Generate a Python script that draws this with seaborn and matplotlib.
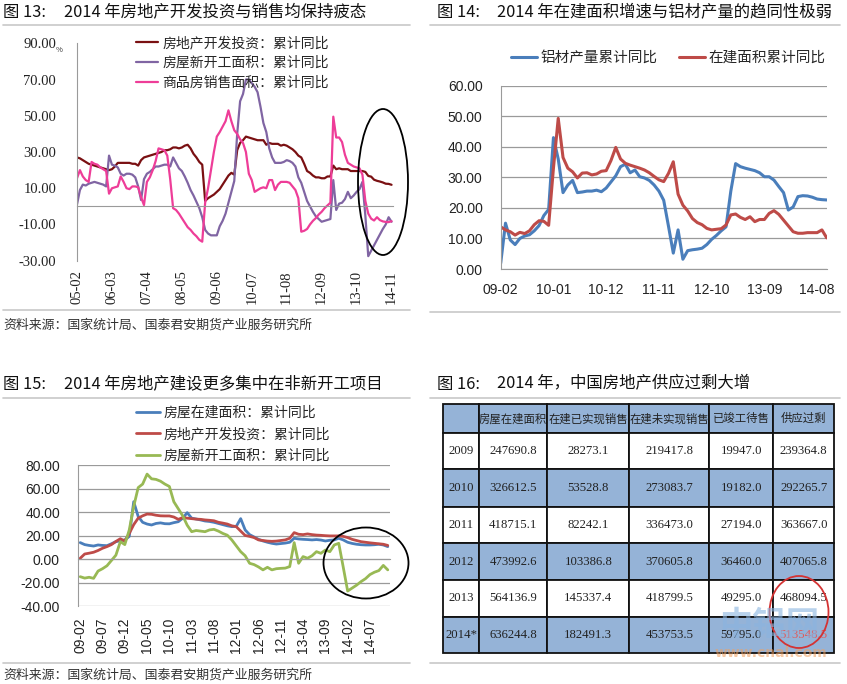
import numpy as np
import pandas as pd
import matplotlib
matplotlib.use("Agg")
import matplotlib.pyplot as plt
import seaborn as sns
from matplotlib.patches import Ellipse
from matplotlib.lines import Line2D

# ---------------- data ----------------
# Fig 13 (monthly YTD yoy, Feb-Dec each year, 05-02 .. 14-11)
ticks13 = ["05-02", "06-03", "07-04", "08-05", "09-06", "10-07", "11-08", "12-09", "13-10", "14-11"]
inv13 = [27.0, 26.5, 25.5, 24.5, 23.5, 23.0, 22.5, 22.0, 21.5, 21.0, 20.5,
         20.0, 20.5, 22.0, 24.0, 24.0, 24.0, 24.0, 24.0, 23.5, 23.5, 22.5,
         25.5, 27.0, 27.5, 28.0, 28.5, 29.0, 29.5, 30.0, 31.0, 31.0, 31.5,
         32.5, 32.5, 32.0, 32.5, 33.5, 34.0, 32.0, 29.0, 27.0, 24.5, 23.0,
         3.0, 4.5, 5.5, 6.5, 8.0, 9.5, 12.0, 14.5, 17.0, 18.5, 17.5,
         31.0, 35.0, 36.5, 38.5, 38.0, 37.5, 37.0, 36.5, 36.5, 36.5, 34.0,
         35.0, 34.5, 34.5, 34.5, 33.5, 34.0, 33.5, 32.5, 31.5, 30.0, 28.0,
         27.0, 23.5, 19.5, 18.5, 17.0, 16.0, 16.0, 15.5, 15.5, 16.5, 16.5,
         22.5, 20.5, 21.0, 20.5, 20.5, 20.5, 19.5, 19.5, 19.5, 19.5, 19.5,
         19.0, 16.8, 16.4, 14.7, 14.1, 13.7, 13.2, 12.5, 12.4, 11.9]
starts13 = [1.0, 9.0, 12.0, 11.5, 12.5, 13.0, 13.5, 13.0, 12.5, 12.0, 11.0,
            28.0, 23.0, 22.5, 21.5, 18.0, 17.0, 18.0, 18.0, 17.5, 16.0, 11.0,
            3.5, 15.0, 18.0, 19.0, 20.5, 22.0, 22.0, 22.5, 23.0, 23.0, 22.0,
            27.0, 24.0, 21.0, 19.5, 16.5, 13.0, 9.0, 6.0, 2.5, -1.0, -6.0,
            -13.0, -15.0, -16.0, -16.0, -16.0, -11.0, -8.0, -4.0, 2.0, 8.0, 14.0,
            40.0, 58.0, 62.0, 70.0, 70.0, 68.0, 66.0, 63.0, 55.0, 46.0, 41.0,
            32.0, 27.0, 24.0, 24.0, 24.0, 24.5, 25.5, 25.0, 24.0, 22.0, 16.0,
            13.0, 8.0, 3.0, 0.0, -3.0, -5.5, -7.0, -8.5, -8.0, -7.5, -7.0,
            14.5, -2.0, 1.5, 2.0, 4.0, 8.0, 4.5, 6.0, 8.0, 9.5, 13.5,
            -5.0, -27.5, -24.5, -21.5, -18.5, -15.5, -12.5, -10.0, -6.0, -8.5]
sales13 = [15.5, 20.0, 16.5, 14.5, 13.5, 24.5, 23.5, 23.0, 21.5, 20.5, 19.5,
           7.0, 10.0, 10.5, 11.0, 16.5, 13.5, 10.0, 9.5, 11.0, 11.0, 10.5,
           5.0, 0.7, 13.5, 16.0, 20.0, 25.0, 32.0, 31.5, 31.0, 28.0, 15.0,
           -1.0, -2.0, -4.0, -6.5, -9.0, -11.5, -13.0, -15.0, -16.5, -18.5, -19.5,
           2.0, 10.0, 20.0, 30.0, 38.5, 41.0, 44.0, 47.0, 53.0, 47.0, 42.0,
           40.0, 37.0, 35.0, 30.0, 18.0, 14.5, 8.0, 9.0, 10.0, 10.5, 10.0,
           14.5, 14.5, 9.0, 12.0, 13.5, 13.5, 13.5, 13.0, 11.0, 9.0, 4.5,
           -14.0, -13.5, -12.5, -10.0, -8.0, -6.5, -4.5, -3.0, -1.0, 0.5, 2.0,
           49.5, 38.0, 38.0, 35.5, 28.5, 24.0, 23.0, 22.0, 21.5, 21.0, 17.5,
           3.0, -4.0, -6.8, -7.8, -6.0, -7.6, -8.3, -8.6, -8.7, -8.2]
names13 = ["房地产开发投资：累计同比", "房屋新开工面积：累计同比", "商品房销售面积：累计同比"]

# Fig 14 (monthly, 09-02 .. 14-10)
ticks14 = ["09-02", "10-01", "10-12", "11-11", "12-10", "13-09", "14-08"]
alu14 = [1.9, 15.0, 9.5, 8.0, 10.0, 10.8, 11.2, 12.5, 14.2, 17.5, 19.5, 43.0, 36.0, 25.0,
         27.5, 29.0, 25.0, 25.2, 25.5, 25.5, 25.8, 25.3, 26.5, 28.5, 30.5, 33.5, 34.3, 31.5,
         32.4, 30.2, 29.8, 29.0, 27.5, 25.5, 22.5, 14.0, 5.2, 12.8, 3.2, 6.0, 6.3, 6.5,
         6.8, 8.0, 9.7, 11.0, 12.5, 13.8, 25.5, 34.5, 33.5, 33.0, 32.6, 32.2, 31.5, 30.2,
         30.2, 29.1, 27.0, 25.0, 19.3, 20.3, 23.7, 24.0, 23.9, 23.5, 22.9, 22.7, 22.6]
constr14 = [13.8, 12.8, 12.2, 11.1, 12.0, 11.6, 12.5, 14.5, 15.8, 15.6, 14.3, 33.0, 49.3, 36.5,
            33.0, 31.8, 29.8, 31.4, 31.5, 30.8, 31.1, 32.0, 32.2, 35.5, 39.8, 36.0, 34.6, 34.0,
            33.5, 33.0, 32.4, 31.5, 30.3, 29.2, 28.6, 31.3, 35.1, 24.5, 20.9, 19.0, 16.5, 15.2,
            14.5, 13.3, 12.8, 13.0, 13.2, 14.4, 17.7, 18.0, 16.9, 16.2, 17.1, 15.5, 16.2, 16.2,
            18.2, 19.1, 17.9, 16.0, 14.1, 12.2, 11.7, 11.7, 11.9, 11.9, 11.9, 12.8, 10.2]
names14 = ["铝材产量累计同比", "在建面积累计同比"]

# Fig 15 (monthly, 09-02 .. 14-11)
ticks15 = ["09-02", "09-07", "09-12", "10-05", "10-10", "11-03", "11-08", "12-01", "12-06",
           "12-11", "13-04", "13-09", "14-02", "14-07"]
constr15 = [14.2, 12.5, 11.8, 11.3, 12.2, 11.8, 11.6, 13.2, 15.0, 15.8,
            16.5, 19.5, 49.0, 36.5, 31.5, 30.0, 29.2, 30.5, 31.0, 30.3,
            30.2, 31.2, 32.0, 35.0, 39.7, 35.0, 34.3, 33.5, 32.6, 32.2,
            31.5, 30.5, 29.5, 28.5, 27.8, 28.0, 34.6, 25.0, 21.0, 19.0,
            17.0, 15.6, 14.5, 13.6, 13.0, 13.4, 13.8, 14.5, 17.9, 17.3,
            17.0, 16.8, 16.5, 16.8, 16.4, 15.6, 16.2, 16.5, 17.9, 16.5,
            14.5, 13.5, 12.8, 12.4, 12.2, 12.2, 12.4, 12.8, 12.2, 10.8]
inv15 = [0.9, 4.5, 5.2, 6.0, 7.5, 9.4, 10.8, 12.5, 15.2, 17.5,
         15.5, 22.0, 29.5, 35.0, 37.0, 38.5, 38.3, 37.5, 37.0, 36.9,
         36.9, 36.0, 34.0, 35.5, 35.0, 34.6, 34.2, 34.0, 33.5, 33.2,
         32.8, 31.5, 30.8, 30.0, 28.5, 27.8, 24.0, 20.3, 19.5, 18.5,
         16.5, 16.0, 15.5, 15.3, 15.5, 16.0, 16.5, 17.9, 22.7, 21.3,
         21.0, 21.6, 21.0, 20.6, 20.4, 20.1, 19.9, 19.9, 19.9, 19.5,
         18.5, 17.0, 16.0, 15.0, 14.5, 14.0, 13.6, 13.2, 12.8, 11.8]
starts15 = [-14.8, -16.0, -15.3, -16.2, -10.0, -8.0, -5.5, -1.0, 3.5, 15.0,
            12.5, 25.0, 45.0, 61.0, 64.0, 72.5, 68.5, 68.0, 66.5, 64.0,
            62.0, 49.0, 43.0, 37.0, 29.0, 23.5, 24.5, 24.0, 23.5, 25.0,
            25.5, 24.0, 22.0, 20.5, 16.5, 11.5, 6.5, 3.0, -3.4, -4.5,
            -6.5, -9.0, -6.8, -9.0, -8.0, -7.7, -7.5, -6.2, 14.2, -3.4,
            2.3, 0.9, 3.0, 6.5, 5.1, 7.9, 6.5, 12.2, 13.6, -6.5,
            -27.0, -24.5, -22.0, -19.0, -16.5, -13.0, -11.0, -9.6, -5.2, -9.0]
names15 = ["房屋在建面积：累计同比", "房地产开发投资：累计同比", "房屋新开工面积：累计同比"]

# Fig 16 table
tbl_cols = ["房屋在建面积", "在建已实现销售", "在建未实现销售", "已竣工待售", "供应过剩"]
tbl_years = ["2009", "2010", "2011", "2012", "2013", "2014*"]
col_under_construction = [247690.8, 326612.5, 418715.1, 473992.6, 564136.9, 636244.8]
col_sold = [28273.1, 53528.8, 82242.1, 103386.8, 145337.4, 182491.3]
col_unsold = [219417.8, 273083.7, 336473.0, 370605.8, 418799.5, 453753.5]
col_completed = [19947.0, 19182.0, 27194.0, 36460.0, 49295.0, 59795.0]
col_oversupply = [239364.8, 292265.7, 363667.0, 407065.8, 468094.5, 513548.5]

# ---------------- style ----------------
sns.set_style("white")
plt.rcParams["font.family"] = ["Noto Sans CJK SC", "DejaVu Sans"]
plt.rcParams["axes.unicode_minus"] = False

W, H = 847, 684
fig = plt.figure(figsize=(W / 100, H / 100), dpi=100)
fig.patch.set_facecolor("white")


def fx(x):
    return x / W


def fy(y):
    return 1 - y / H


def px_axes(l, t, r, b):
    return fig.add_axes([l / W, 1 - b / H, (r - l) / W, (b - t) / H])


def hline(x0, x1, y, color="#c8c8c8", lw=1.2):
    fig.add_artist(Line2D([fx(x0), fx(x1)], [fy(y), fy(y)], color=color, lw=lw,
                          transform=fig.transFigure))


def title(x0, x1, y, a, b):
    fig.text(fx(x0), fy(y), a, fontsize=11.8, va="center", ha="left", color="#111")
    fig.text(fx(x1), fy(y), b, fontsize=11.8, va="center", ha="left", color="#111")


GRAY = "#9a9a9a"
SRC = "资料来源：国家统计局、国泰君安期货产业服务研究所"

# frames / titles
title(3, 64, 13, "图 13:", "2014 年房地产开发投资与销售均保持疲态")
title(437, 497, 13, "图 14:", "2014 年在建面积增速与铝材产量的趋同性极弱")
title(3, 64, 384, "图 15:", "2014 年房地产建设更多集中在非新开工项目")
title(437, 497, 384, "图 16:", "2014 年，中国房地产供应过剩大增")
hline(3, 410, 25)
hline(430, 840, 25)
hline(3, 410, 310)
hline(430, 840, 312)
hline(3, 410, 398)
hline(430, 840, 398)
hline(3, 410, 663)
hline(430, 840, 663)
fig.text(fx(3), fy(325), SRC, fontsize=9.3, va="center", ha="left", color="#333")
fig.text(fx(3), fy(675), SRC, fontsize=9.3, va="center", ha="left", color="#333")

# ---------------- Fig 13 ----------------
ax1 = px_axes(77, 43.3, 393, 260.7)
x13 = np.arange(len(inv13))
for vals, name, col in zip([inv13, starts13, sales13], names13,
                           ["#7a1012", "#8065a3", "#ee3d98"]):
    sns.lineplot(x=x13, y=vals, ax=ax1, color=col, lw=1.6, label=name)
for s in ["top", "right"]:
    ax1.spines[s].set_visible(False)
ax1.spines["left"].set_color(GRAY)
ax1.spines["bottom"].set_color(GRAY)
ax1.spines["bottom"].set_position(("data", 0))
ax1.set_xlim(0, 108.5)
ax1.set_ylim(-30, 90)
yt1 = [-30, -10, 10, 30, 50, 70, 90]
ax1.set_yticks(yt1)
ax1.set_yticklabels([f"{v:.2f}" for v in yt1], fontfamily="Liberation Serif", fontsize=10.5, color="#222")
ax1.set_xticks(np.arange(0, 109, 12))
ax1.set_xticklabels(ticks13, rotation=90, fontfamily="Liberation Serif", fontsize=10.5, color="#222")
ax1.tick_params(axis="x", length=4, color=GRAY, direction="out", pad=42)
ax1.tick_params(axis="y", length=4, color=GRAY, direction="out", pad=11)
ax1.set_xlabel("")
ax1.set_ylabel("")
ax1.legend(loc="upper left", bbox_to_anchor=(fx(136), fy(36)), bbox_transform=fig.transFigure,
           frameon=False, fontsize=10, handlelength=1.6, handletextpad=0.3,
           labelspacing=0.42, borderpad=0, borderaxespad=0)
fig.text(fx(59), fy(50), "%", fontsize=5.5, color="#333", va="center", ha="center")
fig.add_artist(Ellipse((fx(383), fy(182)), 50 / W, 146 / H, fill=False, ec="black", lw=1.3,
                       transform=fig.transFigure))

# ---------------- Fig 14 ----------------
ax2 = px_axes(500.7, 85.7, 826.7, 269)
x14 = np.arange(len(alu14))
for vals, name, col in zip([alu14, constr14], names14, ["#4a7ebb", "#be4b48"]):
    sns.lineplot(x=x14, y=vals, ax=ax2, color=col, lw=2.2, label=name)
for s in ["top", "right"]:
    ax2.spines[s].set_visible(False)
ax2.spines["left"].set_color(GRAY)
ax2.spines["bottom"].set_color(GRAY)
ax2.set_xlim(0, 68)
ax2.set_ylim(0, 60)
yt2 = np.arange(0, 61, 10)
ax2.set_yticks(yt2)
ax2.set_yticklabels([f"{v:.2f}" for v in yt2], fontfamily="Liberation Sans", fontsize=10, color="#222")
ax2.set_xticks(np.arange(0, 67, 11))
ax2.set_xticklabels(ticks14, fontfamily="Liberation Sans", fontsize=10, color="#222")
ax2.yaxis.grid(True, color=GRAY, lw=0.9)
ax2.set_axisbelow(True)
ax2.tick_params(axis="x", length=4, color=GRAY, direction="out", pad=6)
ax2.tick_params(axis="y", length=5, color=GRAY, direction="out", pad=8)
ax2.set_xlabel("")
ax2.set_ylabel("")
ax2.legend(loc="upper left", bbox_to_anchor=(fx(511), fy(51)), bbox_transform=fig.transFigure,
           ncol=2, frameon=False, fontsize=10.5, handlelength=1.8, handletextpad=0.2,
           columnspacing=1.5, borderpad=0, borderaxespad=0)

# ---------------- Fig 15 ----------------
ax3 = px_axes(78, 465.3, 390, 606.3)
x15 = np.arange(len(constr15))
for vals, name, col in zip([constr15, inv15, starts15], names15,
                           ["#4a7ebb", "#be4b48", "#98b954"]):
    sns.lineplot(x=x15, y=vals, ax=ax3, color=col, lw=2.0, label=name)
for s in ["top", "right"]:
    ax3.spines[s].set_visible(False)
ax3.spines["left"].set_color(GRAY)
ax3.spines["bottom"].set_color(GRAY)
ax3.spines["bottom"].set_position(("data", 0))
ax3.set_xlim(-0.5, 69.5)
ax3.set_ylim(-40, 80)
yt3 = np.arange(-40, 81, 20)
ax3.set_yticks(yt3)
ax3.set_yticklabels([f"{v:.2f}" for v in yt3], fontfamily="Liberation Sans", fontsize=10, color="#222")
ax3.set_xticks(np.arange(0, 66, 5))
ax3.set_xticklabels(ticks15, rotation=90, fontfamily="Liberation Sans", fontsize=10, color="#222")
ax3.yaxis.grid(True, color=GRAY, lw=0.9)
ax3.set_axisbelow(True)
ax3.tick_params(axis="x", length=4, color=GRAY, direction="out", pad=38)
ax3.tick_params(axis="y", length=5, color=GRAY, direction="out", pad=8)
ax3.set_xlabel("")
ax3.set_ylabel("")
ax3.legend(loc="upper left", bbox_to_anchor=(fx(136), fy(406)), bbox_transform=fig.transFigure,
           frameon=False, fontsize=10, handlelength=1.75, handletextpad=0.2,
           labelspacing=0.52, borderpad=0, borderaxespad=0)
fig.add_artist(Ellipse((fx(366), fy(563)), 85 / W, 71 / H, fill=False, ec="black", lw=1.3,
                       transform=fig.transFigure))

# ---------------- Fig 16 table ----------------
tax = px_axes(443.3, 404.3, 834, 653.3)
tax.axis("off")
columns = [col_under_construction, col_sold, col_unsold, col_completed, col_oversupply]
cell_text = [[""] + tbl_cols]
for i, yr in enumerate(tbl_years):
    cell_text.append([yr] + [f"{c[i]:.1f}" for c in columns])
col_w = [35.7, 68.3, 82, 80, 64, 60.7]
row_h = [29, 36, 37.4, 36.6, 36.7, 36.7, 36.6]
tbl = tax.table(cellText=cell_text, cellLoc="center", bbox=[0, 0, 1, 1])
tbl.auto_set_font_size(False)
BLUE = "#95b3d7"
for (r, c), cell in tbl.get_celld().items():
    cell.set_width(col_w[c] / sum(col_w))
    cell.set_height(row_h[r] / sum(row_h))
    cell.set_linewidth(1.3)
    cell.set_edgecolor("#111")
    cell.set_facecolor(BLUE if r % 2 == 0 else "white")
    t = cell.get_text()
    if r == 0:
        t.set_fontsize(8.2)
        t.set_fontfamily(["Noto Sans CJK SC"])
    else:
        t.set_fontsize(9.2)
        t.set_fontfamily(["Liberation Serif"])
    t.set_color("#222")
tbl.get_celld()[(6, 5)].get_text().set_color("#e05a5a")
fig.text(fx(769), fy(625), "中铝网", fontsize=24, color="#8ab4e0", alpha=0.6,
         ha="center", va="center", fontweight="bold")
fig.text(fx(771), fy(653), "www.cnal.com", fontsize=10, color="#f0a060", alpha=0.55,
         ha="center", va="center", fontfamily=["DejaVu Sans"], fontweight="bold")
fig.add_artist(Ellipse((fx(799), fy(612)), 59 / W, 72 / H, fill=False, ec="#d43333", lw=1.3,
                       transform=fig.transFigure))

fig.savefig("out.png", dpi=100, facecolor="white")
